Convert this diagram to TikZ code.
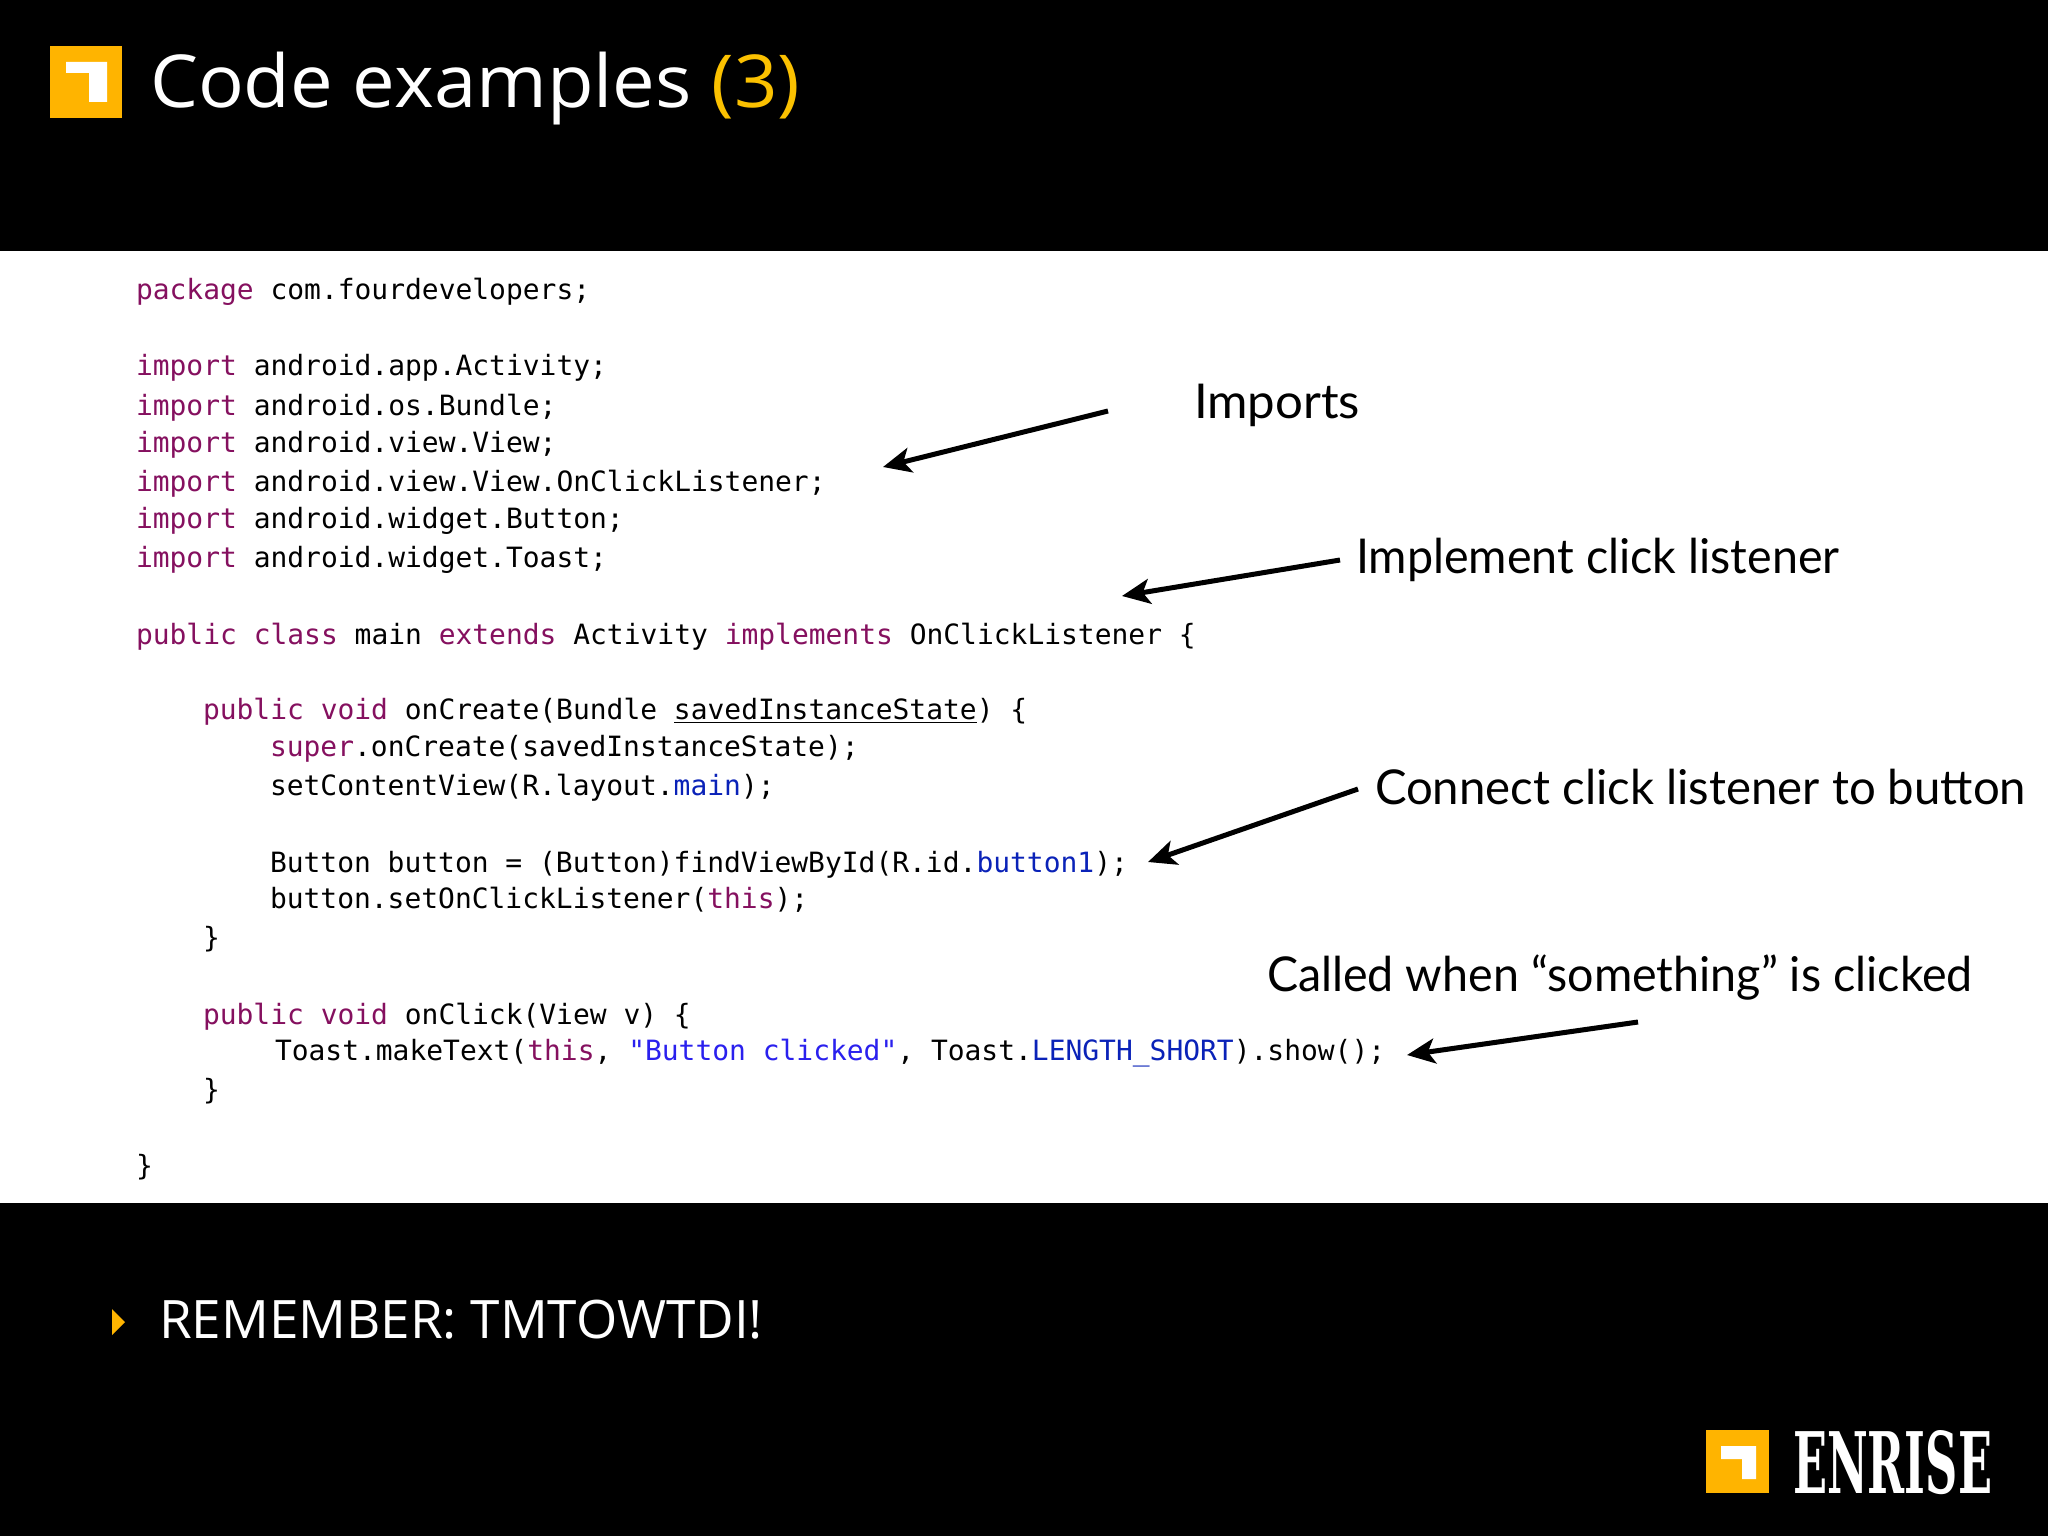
\documentclass[tikz,border=0pt]{standalone}
\usepackage{fontspec}
\setmainfont{Open Sans}
\setmonofont{DejaVu Sans Mono}
\newfontfamily\notefont{Lato}
\newfontfamily\brandfont{DejaVu Serif}
\usetikzlibrary{arrows.meta}
\definecolor{brandorange}{HTML}{FFB400}
\definecolor{titleyellow}{HTML}{FBC100}
\definecolor{kw}{HTML}{85105F}
\definecolor{fld}{HTML}{0A22B8}
\definecolor{strc}{HTML}{2A20EE}
\newcommand{\kw}[1]{\textcolor{kw}{#1}}
\newcommand{\fld}[1]{\textcolor{fld}{#1}}
\tikzset{
  x=0.5pt,y=-0.5pt,
  code/.style={anchor=base west,inner sep=0pt,outer sep=0pt,font=\ttfamily\fontsize{13.97pt}{16pt}\selectfont,text=black},
  note/.style={anchor=base west,inner sep=0pt,outer sep=0pt,font=\notefont\fontsize{24pt}{28pt}\selectfont,text=black},
  callout/.style={line width=2.5pt,black,-{Stealth[length=14pt,width=12.5pt,inset=3.5pt]}},
  heading/.style={anchor=base west,inner sep=0pt,outer sep=0pt,text=white},
}
\begin{document}
\begin{tikzpicture}
\useasboundingbox (0,0) rectangle (2048,1536);
\fill[black] (0,0) rectangle (2048,1536);
\fill[white] (0,251) rectangle (2048,1203);
% top logo
\fill[brandorange] (50,46) rectangle (122,118);
\fill[white] (66,62) -- (107,62) -- (107,102) -- (89,102) -- (89,73) -- (66,73) -- cycle;
\node[heading,font=\fontsize{36.5pt}{40pt}\selectfont] (title) at (150,107) {\scalebox{1.042}[1]{Code examples \textcolor{titleyellow}{(3)}}};
% code
\node[code] (l1) at (136,299) {\kw{package} com.fourdevelopers;};
\node[code] (l2) at (136,375) {\kw{import} android.app.Activity;};
\node[code] (l3) at (136,415) {\kw{import} android.os.Bundle;};
\node[code] (l4) at (136,452) {\kw{import} android.view.View;};
\node[code] (l5) at (136,491) {\kw{import} android.view.View.OnClickListener;};
\node[code] (l6) at (136,528) {\kw{import} android.widget.Button;};
\node[code] (l7) at (136,567) {\kw{import} android.widget.Toast;};
\node[code] (l8) at (136,644) {\kw{public} \kw{class} main \kw{extends} Activity \kw{implements} OnClickListener \{};
\node[code] (l9) at (203,719) {\kw{public} \kw{void} onCreate(Bundle \underline{savedInstanceState}) \{};
\node[code] (l10) at (270,756) {\kw{super}.onCreate(savedInstanceState);};
\node[code] (l11) at (270,795) {setContentView(R.layout.\fld{main});};
\node[code] (l12) at (270,872) {Button button = (Button)findViewById(R.id.\fld{button1});};
\node[code] (l13) at (270,908) {button.setOnClickListener(\kw{this});};
\node[code] (l14) at (203,947) {\}};
\node[code] (l15) at (203,1024) {\kw{public} \kw{void} onClick(View v) \{};
\node[code] (l16) at (275,1060) {Toast.makeText(\kw{this}, \textcolor{strc}{"Button clicked"}, Toast.\fld{LENGTH\_SHORT}).show();};
\node[code] (l17) at (203,1099) {\}};
\node[code] (l18) at (136,1175) {\}};
% notes
\node[note] (n1) at (1194,418) {\scalebox{1.024}[1]{Imports}};
\node[note] (n2) at (1356,573) {\scalebox{0.971}[1]{Implement click listener}};
\node[note] (n3) at (1375,804) {\scalebox{0.986}[1]{Connect click listener to button}};
\node[note] (n4) at (1267,991) {\scalebox{0.971}[1]{Called when “something” is clicked}};
\coordinate (a1s) at (1108,411); \coordinate (a1e) at (883,467);
\coordinate (a2s) at (1340,560); \coordinate (a2e) at (1122,596);
\coordinate (a3s) at (1358,789); \coordinate (a3e) at (1148,862);
\coordinate (a4s) at (1638,1022); \coordinate (a4e) at (1407,1055);
\draw[callout] (a1s) -- (a1e);
\draw[callout] (a2s) -- (a2e);
\draw[callout] (a3s) -- (a3e);
\draw[callout] (a4s) -- (a4e);
% bullet
\fill[brandorange] (112,1309) -- (125,1322) -- (112,1335) -- cycle;
\node[heading,font=\fontsize{26.5pt}{30pt}\selectfont] (rem) at (159,1338) {REMEMBER: TMTOWTDI!};
% bottom logo
\fill[brandorange] (1706,1430) rectangle (1769,1493);
\fill[white] (1721,1446) -- (1756,1446) -- (1756,1479) -- (1742,1479) -- (1742,1459) -- (1721,1459) -- cycle;
\node[heading,font=\brandfont\bfseries\fontsize{42pt}{44pt}\selectfont] (brand) at (1793,1493) {\resizebox{99.5pt}{31.5pt}{ENRISE}};
\end{tikzpicture}
\end{document}
